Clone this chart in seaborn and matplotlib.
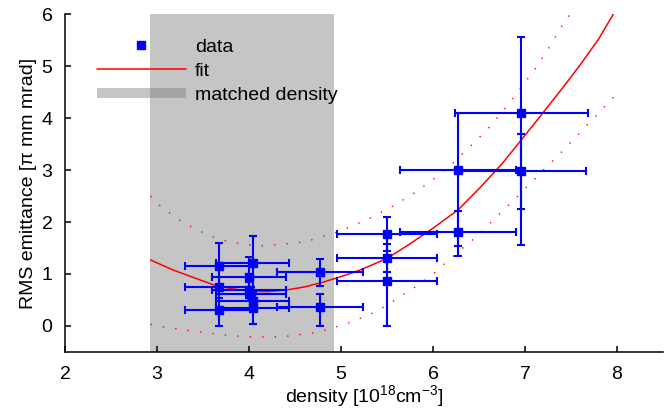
import matplotlib
matplotlib.use('Agg')
import matplotlib.pyplot as plt
import seaborn as sns
from matplotlib.lines import Line2D

# measured points (density in 1e18 cm^-3, emittance in pi mm mrad)
dens = [3.67, 3.67, 3.67, 4.04, 4.00, 4.00, 4.02, 4.04, 4.04, 4.77, 4.77,
        5.50, 5.50, 5.50, 6.27, 6.27, 6.96, 6.96]
emit = [1.16, 0.74, 0.31, 1.21, 0.95, 0.69, 0.62, 0.48, 0.34, 1.03, 0.36,
        1.77, 1.30, 0.87, 3.01, 1.80, 4.09, 2.98]
dens_err = [0.37, 0.37, 0.37, 0.40, 0.40, 0.40, 0.38, 0.40, 0.40, 0.47, 0.47,
            0.54, 0.54, 0.54, 0.63, 0.63, 0.72, 0.70]
emit_lo = [0.44, 0.21, 0.31, 0.52, 0.37, 0.15, 0.12, 0.20, 0.31, 0.26, 0.36,
           0.32, 0.27, 0.87, 1.48, 0.45, 1.83, 1.42]
emit_hi = [0.44, 0.21, 0.31, 0.52, 0.37, 0.15, 0.12, 0.20, 0.31, 0.26, 0.25,
           0.32, 0.27, 0.87, 1.08, 0.42, 1.47, 0.72]

# fit curve
fit_x = [2.93, 3.17, 3.40, 3.60, 3.80, 4.00, 4.20, 4.40, 4.60, 4.80, 5.00,
         5.20, 5.50, 5.75, 6.00, 6.27, 6.50, 6.75, 6.96, 7.19, 7.40, 7.59,
         7.80, 8.00]
fit_y = [1.27, 1.08, 0.93, 0.80, 0.72, 0.67, 0.66, 0.69, 0.75, 0.84, 0.95,
         1.07, 1.30, 1.58, 1.88, 2.23, 2.64, 3.12, 3.58, 4.09, 4.56, 5.00,
         5.52, 6.12]

# confidence band (dotted)
up_x = [2.93, 3.00, 3.11, 3.22, 3.34, 3.46, 3.58, 3.72, 3.85, 3.99, 4.12,
        4.26, 4.40, 4.53, 4.67, 4.80, 4.93, 5.06, 5.18, 5.31, 5.43, 5.55,
        5.67, 5.79, 6.01, 6.22, 6.42, 6.61, 6.79, 6.95, 7.12, 7.27, 7.41,
        7.50]
up_y = [2.50, 2.36, 2.21, 2.06, 1.94, 1.83, 1.73, 1.65, 1.60, 1.56, 1.54,
        1.56, 1.58, 1.60, 1.65, 1.72, 1.79, 1.88, 1.97, 2.07, 2.18, 2.29,
        2.42, 2.55, 2.83, 3.14, 3.48, 3.82, 4.20, 4.57, 4.97, 5.38, 5.80,
        6.02]
lo_x = [2.93, 3.04, 3.17, 3.31, 3.45, 3.58, 3.72, 3.85, 3.99, 4.13, 4.26,
        4.40, 4.54, 4.68, 4.81, 4.94, 5.07, 5.20, 5.33, 5.45, 5.57, 5.68,
        5.80, 5.91, 6.02, 6.12, 6.33, 6.44, 6.63, 6.73, 6.83, 6.93, 7.02,
        7.12, 7.21, 7.31, 7.41, 7.50, 7.60, 7.69, 7.79, 7.88, 8.00]
lo_y = [0.03, -0.01, -0.04, -0.08, -0.11, -0.14, -0.17, -0.19, -0.21, -0.21,
        -0.21, -0.20, -0.17, -0.14, -0.09, -0.02, 0.05, 0.14, 0.24, 0.35,
        0.48, 0.61, 0.74, 0.88, 1.03, 1.19, 1.51, 1.67, 1.99, 2.17, 2.34,
        2.51, 2.68, 2.85, 3.02, 3.19, 3.37, 3.54, 3.72, 3.90, 4.07, 4.25,
        4.47]

matched = (2.92, 4.92)

sns.set_theme(style='ticks', rc={'axes.edgecolor': 'black', 'text.color': 'black',
                                 'axes.labelcolor': 'black', 'xtick.color': 'black',
                                 'ytick.color': 'black'})
plt.rcParams['font.family'] = ['Liberation Sans', 'DejaVu Sans']
plt.rcParams['mathtext.fontset'] = 'custom'
plt.rcParams['mathtext.rm'] = 'Liberation Sans'
plt.rcParams['mathtext.it'] = 'Liberation Sans:italic'

fig = plt.figure(figsize=(6.65, 4.16), dpi=100)
ax = fig.add_axes([0.0977, 0.154, 0.8993, 0.812])

ax.axvspan(*matched, color='#808080', alpha=0.45, lw=0, zorder=0)

sns.lineplot(x=fit_x, y=fit_y, color='red', lw=1.1, sort=False, estimator=None, ax=ax)
sns.lineplot(x=up_x, y=up_y, color='red', lw=1.0, linestyle=(0, (1, 8)),
             sort=False, estimator=None, ax=ax)
sns.lineplot(x=lo_x, y=lo_y, color='red', lw=1.0, linestyle=(0, (1, 8)),
             sort=False, estimator=None, ax=ax)

ax.errorbar(dens, emit, xerr=dens_err, yerr=[emit_lo, emit_hi], fmt='s',
            color='#0000ff', ms=6, elinewidth=1.5, capsize=2.8, capthick=1.5,
            zorder=3)

ax.set_xlim(2, 8.5)
ax.set_ylim(-0.5, 6)
ax.set_xticks(range(2, 9))
ax.set_yticks(range(0, 7))
ax.tick_params(direction='in', length=4, width=1.1, labelsize=14)
ax.tick_params(axis='x', pad=10)
ax.tick_params(axis='y', pad=9)
for s in ['left', 'bottom']:
    ax.spines[s].set_linewidth(1.1)
sns.despine(ax=ax)

ax.set_xlabel('density [10$^{18}$cm$^{-3}$]', fontsize=14, labelpad=0)
ax.set_ylabel('RMS emittance [π mm mrad]', fontsize=14, labelpad=3)

h_data = Line2D([], [], ls='none', marker='s', color='#0000ff', ms=6)
h_fit = Line2D([], [], color='red', lw=1.1)
h_band = Line2D([], [], color='#808080', alpha=0.45, lw=7.2, solid_capstyle='butt')
ax.legend([h_data, h_fit, h_band], ['data', 'fit', 'matched density'],
          loc='upper left', bbox_to_anchor=(0.04, 0.952), frameon=False,
          fontsize=14, handlelength=4.6, handletextpad=0.46, labelspacing=0.33,
          borderaxespad=0, borderpad=0.4)

fig.savefig('out.png', dpi=100)
